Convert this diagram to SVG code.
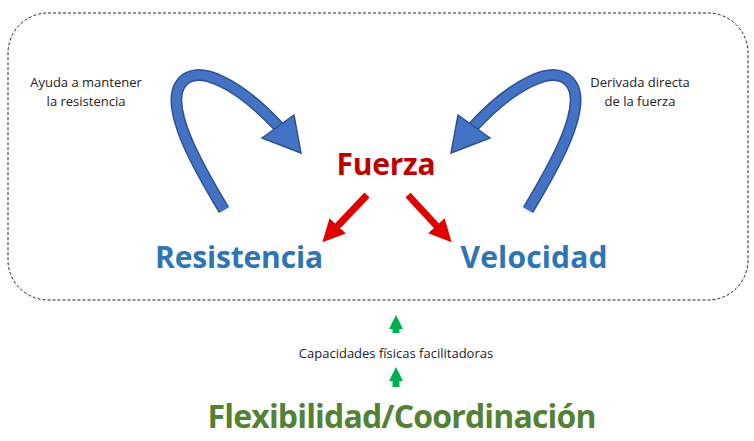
<svg xmlns="http://www.w3.org/2000/svg" width="754" height="441" viewBox="0 0 754 441">
<style>
.s{font-family:"Open Sans","Liberation Sans",sans-serif;font-size:13px;fill:#222}
.b{font-family:"Open Sans","Liberation Sans",sans-serif;font-weight:bold}
.rib{fill:none;stroke:#2f528f;stroke-width:12}
.ribi{fill:none;stroke:#4472c4;stroke-width:9}
.head{fill:#4472c4;stroke:#2f528f;stroke-width:1.5}
</style>
<defs>
<marker id="r" viewBox="0 0 10 10" refX="5" refY="5" markerWidth="3.2" markerHeight="3.2" orient="auto"><path d="M0,0L10,5L0,10z" fill="#e00000"/></marker>
<marker id="g" viewBox="0 0 10 10" refX="5" refY="5" markerWidth="2.6" markerHeight="2" orient="auto"><path d="M0,0L10,5L0,10z" fill="#00b050"/></marker>
</defs>
<rect x="8" y="13" width="740" height="287" rx="40" fill="none" stroke="#222" stroke-width="1" stroke-dasharray="3,2"/>
<g id="connectors">
<g id="curveL"><path class="rib" d="M224,210 C200,170 165,110 180,85 C195,60 240,85 279,127"/><path class="ribi" d="M224,210 C200,170 165,110 180,85 C195,60 240,85 279,127"/><polygon class="head" points="262,138 294,115 301,153"/></g>
<g id="curveR"><path class="rib" d="M528,210 C552,170 587,110 572,85 C557,60 512,85 473,127"/><path class="ribi" d="M528,210 C552,170 587,110 572,85 C557,60 512,85 473,127"/><polygon class="head" points="490,138 458,115 451,153"/></g>
<line x1="367" y1="195" x2="330" y2="234" stroke="#e00000" stroke-width="7" marker-end="url(#r)"/>
<line x1="408" y1="195" x2="444" y2="234" stroke="#e00000" stroke-width="7" marker-end="url(#r)"/>
<line x1="396" y1="333" x2="396" y2="322" stroke="#00b050" stroke-width="7" marker-end="url(#g)"/>
<line x1="396" y1="387" x2="396" y2="374" stroke="#00b050" stroke-width="7" marker-end="url(#g)"/>
</g>
<g id="nFuerza"><text class="b" x="386" y="175" font-size="30" fill="#c00000" text-anchor="middle" textLength="99">Fuerza</text></g>
<g id="nRes"><text class="b" x="239" y="268" font-size="30" fill="#2e75b6" text-anchor="middle" textLength="168">Resistencia</text></g>
<g id="nVel"><text class="b" x="534" y="268" font-size="30" fill="#2e75b6" text-anchor="middle" textLength="147">Velocidad</text></g>
<g id="nFlex"><text class="b" x="402" y="428" font-size="32" fill="#548235" text-anchor="middle" textLength="389">Flexibilidad/Coordinación</text></g>
<g id="lblL"><text class="s" x="86" y="87" text-anchor="middle">Ayuda a mantener</text><text class="s" x="86" y="106" text-anchor="middle">la resistencia</text></g>
<g id="lblR"><text class="s" x="640" y="87" text-anchor="middle">Derivada directa</text><text class="s" x="640" y="106" text-anchor="middle">de la fuerza</text></g>
<g id="lblC"><text class="s" x="396" y="358" text-anchor="middle">Capacidades físicas facilitadoras</text></g>
</svg>
